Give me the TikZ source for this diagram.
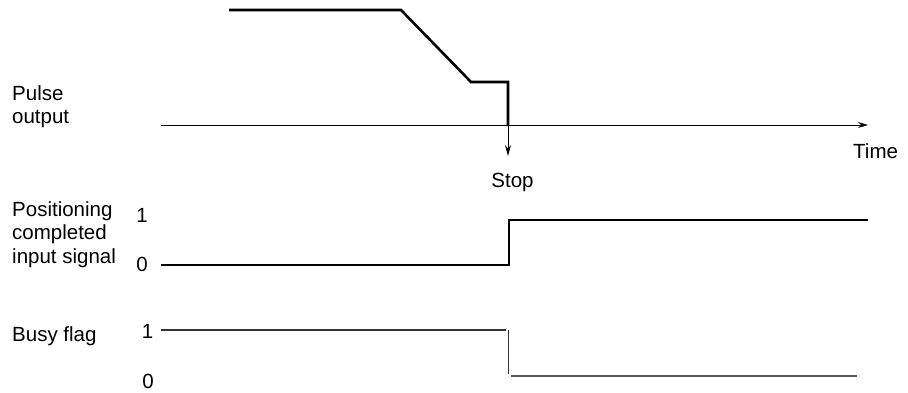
\documentclass[tikz,border=0pt]{standalone}
\usepackage{fontspec}
\setmainfont{Liberation Sans}
\usetikzlibrary{arrows.meta}
\begin{document}
\begin{tikzpicture}[x=1pt,y=-1pt,
  lbl/.style={inner sep=0pt, font=\fontsize{20.5}{23.5}\selectfont, align=left, anchor=north west},
  num/.style={inner sep=0pt, font=\fontsize{20.5}{23.5}\selectfont},
  wavebold/.style={line width=2.6pt, line join=miter, line cap=butt},
  wavethin/.style={line width=1.1pt, draw=black!80},
  axisline/.style={line width=0.9pt, -{Stealth[length=10pt,width=6pt]}},
  stoparrow/.style={line width=0.9pt, -{Stealth[length=11pt,width=6pt]}}]
\useasboundingbox (0,0) rectangle (908,392);

% labels
\node[lbl] (pulse) at (12,85) {Pulse\\output};
\node[lbl] (pos) at (12,201) {Positioning\\completed\\input signal};
\node[lbl] (busy) at (12,326) {Busy flag};
\node[num] (p1) at (142,215) {1};
\node[num] (p0) at (142,264) {0};
\node[num] (b1) at (147.5,331) {1};
\node[num] (b0) at (148,381.5) {0};
\node[num] (stop) at (512.5,182) {Stop};
\node[lbl] (time) at (853,143) {Time};

% pulse output axis
\coordinate (ax0) at (161,125);
\coordinate (ax1) at (868,125);
\draw[axisline] (ax0) -- (ax1);

% pulse waveform
\coordinate (pa) at (229,10);
\coordinate (pb) at (401,10);
\coordinate (pc) at (471,82);
\coordinate (pd) at (508,82);
\coordinate (pe) at (508,125);
\coordinate (pf) at (508,156);
\draw[wavebold] (pa) -- (pb) -- (pc) -- (pd) -- (pe);
\draw[stoparrow] (pe) -- (pf);

% positioning completed input signal
\coordinate (qa) at (161,265);
\coordinate (qb) at (509,265);
\coordinate (qc) at (509,220);
\coordinate (qd) at (868,220);
\draw[wavebold] (qa) -- (qb) -- (qc) -- (qd);

% busy flag
\coordinate (ra) at (161,330);
\coordinate (rb) at (506,330);
\coordinate (rc) at (508.5,330);
\coordinate (rd) at (508.5,374);
\coordinate (re) at (511,376);
\coordinate (rf) at (857,376);
\draw[wavethin] (ra) -- (rb);
\draw[wavethin] (rc) -- (rd);
\draw[wavethin, line width=1.4pt, draw=black!65] (re) -- (rf);
\end{tikzpicture}
\end{document}
